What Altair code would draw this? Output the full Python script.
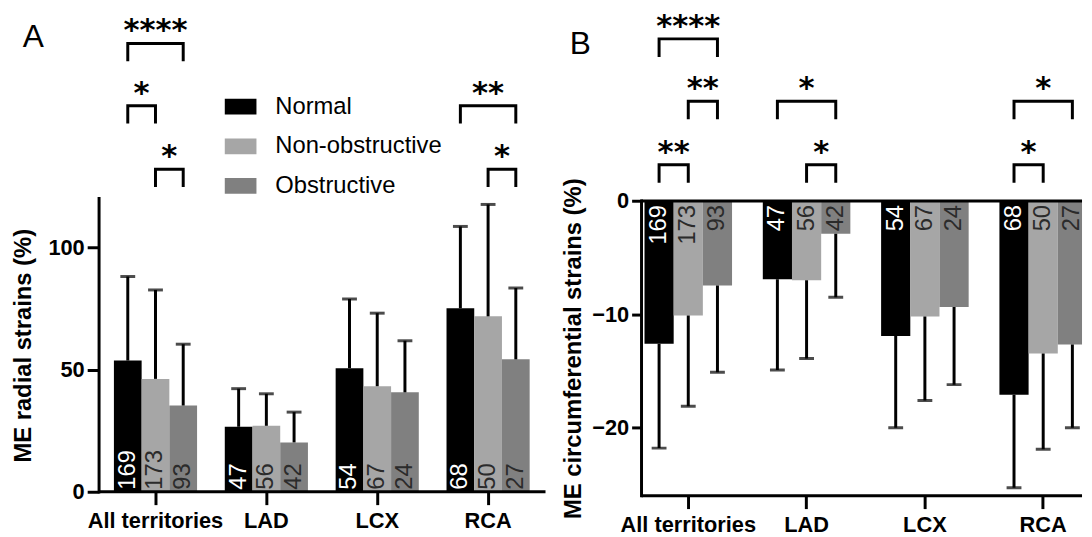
import altair as alt
import pandas as pd

FONT = "Liberation Sans"

territories = ["All territories", "LAD", "LCX", "RCA"]
groups = ["Normal", "Non-obstructive", "Obstructive"]
bar_colors = ["#000000", "#a6a6a6", "#808080"]
count_colors = ["#ffffff", "#2b2b2b", "#2b2b2b"]

counts = [[169, 173, 93], [47, 56, 42], [54, 67, 24], [68, 50, 27]]

radial_mean = [[53.7, 46.2, 35.3], [26.6, 27.0, 20.2], [50.6, 43.2, 40.7], [75.1, 71.8, 54.2]]
radial_sd = [[34.4, 36.4, 25.1], [15.6, 13.1, 12.4], [28.3, 29.9, 21.1], [33.5, 45.8, 29.2]]
circ_mean = [[-12.6, -10.1, -7.45], [-6.9, -7.0, -2.9], [-11.9, -10.2, -9.35], [-17.1, -13.45, -12.65]]
circ_sd = [[9.2, 8.0, 7.65], [8.0, 6.9, 5.6], [8.1, 7.4, 6.85], [8.2, 8.45, 7.35]]

radial_sig_territory = ["All territories", "All territories", "All territories", "RCA", "RCA"]
radial_sig_from = ["Normal", "Normal", "Non-obstructive", "Normal", "Non-obstructive"]
radial_sig_to = ["Obstructive", "Non-obstructive", "Obstructive", "Obstructive", "Obstructive"]
radial_sig_level = [183.5, 158.0, 132.0, 158.0, 132.0]
radial_sig_label = ["****", "*", "*", "**", "*"]

circ_sig_territory = ["All territories", "All territories", "All territories", "LAD", "LAD", "RCA", "RCA"]
circ_sig_from = ["Normal", "Non-obstructive", "Normal", "Normal", "Non-obstructive", "Normal", "Normal"]
circ_sig_to = ["Obstructive", "Obstructive", "Non-obstructive", "Obstructive", "Obstructive", "Obstructive", "Non-obstructive"]
circ_sig_level = [14.3, 8.8, 3.2, 8.8, 3.2, 8.8, 3.2]
circ_sig_label = ["****", "**", "**", "*", "*", "*", "*"]

radial_axis_range = [0, 120]
circ_axis_range = [-26, 0]
radial_ticks = [0, 50, 100]
circ_ticks = [-20, -10, 0]
radial_title = "ME radial strains (%)"
circ_title = "ME circumferential strains (%)"


def bar_table(means, sds, sign):
    rows = []
    for ti, terr in enumerate(territories):
        for gi, grp in enumerate(groups):
            m = means[ti][gi]
            rows.append({"territory": terr, "group": grp, "mean": m,
                         "end": m + sign * sds[ti][gi], "n": counts[ti][gi],
                         "ncolor": count_colors[gi]})
    return pd.DataFrame(rows)


def sig_tables(terrs, froms, tos, levels, labels, leg):
    path, stars = [], []
    for i, (t, a, b, lv, lab) in enumerate(zip(terrs, froms, tos, levels, labels)):
        for k, (g, y) in enumerate([(a, lv - leg), (a, lv), (b, lv), (b, lv - leg)]):
            path.append({"id": i, "territory": t, "group": g, "y": y, "k": k})
        ia, ib = groups.index(a), groups.index(b)
        wide = (ib - ia) == 2
        stars.append({"territory": t, "group": groups[ia + 1] if wide else b,
                      "y": lv, "label": lab, "wide": wide})
    return pd.DataFrame(path), pd.DataFrame(stars)


def panel(bars_df, path_df, star_df, p):
    x = alt.X("territory:N", sort=territories, title=None,
              scale=alt.Scale(domain=territories, range=p["xrange"],
                              paddingInner=p["pinner"], paddingOuter=0),
              axis=alt.Axis(tickSize=13, labelPadding=6, labelAngle=0))
    xo = alt.XOffset("group:N", sort=groups,
                     scale=alt.Scale(domain=groups, paddingInner=0, paddingOuter=0))
    ysc = alt.Scale(domain=p["ydomain"], nice=False, zero=False)
    yaxis = alt.Axis(values=p["ticks"], tickSize=p["ytick"], labelPadding=3,
                     titleX=p["title_x"], titleY=p["title_y"])

    def Y(field):
        return alt.Y(field, scale=ysc, axis=yaxis, title=p["ytitle"])

    y_zero = alt.YDatum(0, scale=ysc, axis=yaxis, title=p["ytitle"])
    color = alt.Color("group:N", sort=groups,
                      scale=alt.Scale(domain=groups, range=bar_colors),
                      legend=p["legend"])
    clip = p["clip"]

    bars = alt.Chart(bars_df).mark_bar(clip=clip).encode(
        x=x, xOffset=xo, y=Y("mean:Q"), y2=alt.datum(0), color=color)
    err = alt.Chart(bars_df).mark_rule(clip=clip, strokeWidth=3, color="black").encode(
        x=x, xOffset=xo, y=Y("mean:Q"), y2="end:Q")
    caps = alt.Chart(bars_df).mark_tick(clip=clip, thickness=3, size=15, color="black").encode(
        x=x, xOffset=xo, y=Y("end:Q"))
    nums = alt.Chart(bars_df).mark_text(clip=clip, angle=270, align=p["nalign"],
                                        baseline="middle", dx=p["ndx"], font=FONT,
                                        fontSize=24).encode(
        x=x, xOffset=xo, y=y_zero, text="n:Q",
        fill=alt.Fill("ncolor:N", scale=None))
    lines = alt.Chart(path_df).mark_line(strokeWidth=3, color="black", strokeJoin="miter",
                                         strokeCap="butt").encode(
        x=x, xOffset=xo, y=Y("y:Q"), detail="id:N", order="k:Q")
    star_w = alt.Chart(star_df).transform_filter("datum.wide").mark_text(
        font="DejaVu Sans", fontWeight="bold", fontSize=31, baseline="alphabetic",
        dy=-3, color="black").encode(
        x=x, xOffset=xo, y=Y("y:Q"), text="label:N")
    star_n = alt.Chart(star_df).transform_filter("!datum.wide").mark_text(
        font="DejaVu Sans", fontWeight="bold", fontSize=31, baseline="alphabetic",
        dy=-3, dx=-p["bw"] / 2, color="black").encode(
        x=x, xOffset=xo, y=Y("y:Q"), text="label:N")
    yline = alt.Chart(pd.DataFrame({"lo": [p["axis_range"][0]], "hi": [p["axis_range"][1]]})).mark_rule(
        strokeWidth=3, color="black", strokeCap="square").encode(
        x=alt.value(0), y=Y("lo:Q"), y2="hi:Q")
    hlines = alt.Chart(pd.DataFrame({"v": p["hlines"]})).mark_rule(
        strokeWidth=3, color="black").encode(y=Y("v:Q"))
    letter = alt.Chart(pd.DataFrame({"t": [p["letter"]]})).mark_text(
        font=FONT, fontSize=32, align="left", baseline="alphabetic", color="black").encode(
        text="t:N", x=alt.value(p["lx"]), y=alt.value(p["ly"]))

    return alt.layer(bars, err, caps, nums, lines, star_w, star_n, hlines, yline, letter).properties(
        width=p["width"], height=p["height"])


rad_bars = bar_table(radial_mean, radial_sd, 1)
rad_path, rad_stars = sig_tables(radial_sig_territory, radial_sig_from, radial_sig_to,
                                 radial_sig_level, radial_sig_label, 7.3)
circ_bars = bar_table(circ_mean, circ_sd, -1)
circ_path, circ_stars = sig_tables(circ_sig_territory, circ_sig_from, circ_sig_to,
                                   circ_sig_level, circ_sig_label, 1.6)

legend = alt.Legend(orient="none", legendX=127, legendY=80, title=None, direction="vertical",
                    symbolType="M-1,-0.5H1V0.5H-1Z", symbolSize=1024, symbolStrokeWidth=0,
                    symbolOpacity=1, labelFont=FONT, labelFontSize=24, labelColor="black",
                    labelOffset=19, rowPadding=12, padding=0, labelLimit=400)

pa = panel(rad_bars, rad_path, rad_stars, {
    "xrange": [15, 435], "pinner": 0.25, "ydomain": [0, 196.5], "ticks": radial_ticks,
    "ytick": 12, "title_x": -76, "title_y": 337, "legend": legend, "clip": False,
    "ytitle": radial_title, "nalign": "left", "ndx": 2, "bw": 28,
    "axis_range": radial_axis_range, "hlines": [radial_axis_range[0]],
    "letter": "A", "lx": -77, "ly": 36, "width": 451, "height": 485})

pb = panel(circ_bars, circ_path, circ_stars, {
    "xrange": [3, 450], "pinner": 0.26, "ydomain": [-26, 16.7], "ticks": circ_ticks,
    "ytick": 10, "title_x": -68.5, "title_y": 340, "legend": None, "clip": True,
    "ytitle": circ_title, "nalign": "right", "ndx": -4, "bw": 29.5,
    "axis_range": circ_axis_range, "hlines": circ_axis_range,
    "letter": "B", "lx": -72.5, "ly": 43, "width": 445, "height": 489})

chart = alt.hconcat(pa, pb, spacing=14).resolve_scale(
    x="independent", y="independent", xOffset="independent", color="independent"
).properties(
    padding={"left": 4, "top": 0, "right": 0, "bottom": 0}, background="white"
).configure_view(
    stroke=None, strokeWidth=0
).configure_axis(
    domain=False, grid=False, tickColor="black", tickWidth=3,
    labelFont=FONT, labelFontSize=22, labelFontWeight="bold", labelColor="black",
    titleFont=FONT, titleFontSize=24, titleFontWeight="bold", titleColor="black"
).configure_axisX(
    tickSize=13, labelPadding=6, labelAngle=0
).configure_axisY(
    tickSize=11, labelPadding=3, titleAngle=270, titleBaseline="middle", titleAlign="center"
)

chart.save("out.html", embed_options={"renderer": "svg", "actions": False})
